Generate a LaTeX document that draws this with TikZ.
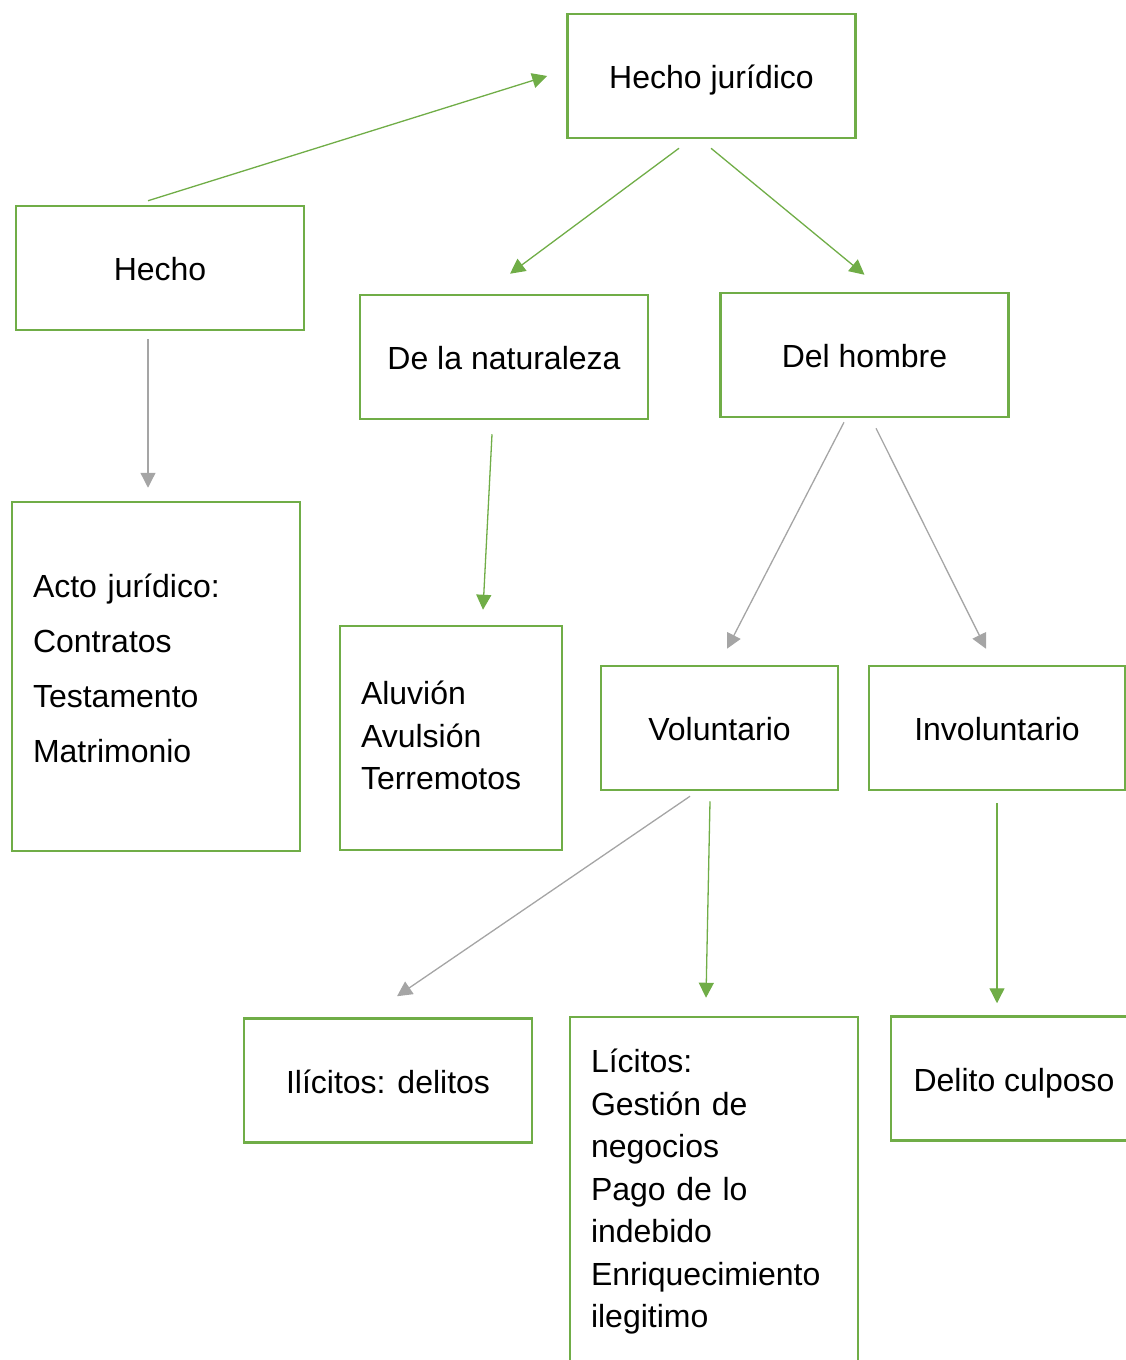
\documentclass[tikz,border=0pt]{standalone}
\usepackage{fontspec}
\setmainfont{Liberation Sans}
\usetikzlibrary{arrows.meta, positioning, calc}
\definecolor{boxgreen}{HTML}{70AD47}
\definecolor{arrowgray}{HTML}{A5A5A5}

\begin{document}
\begin{tikzpicture}[
            x=1pt, y=-1pt,
            base_box/.style={rectangle, draw=boxgreen, line width=2.5pt, minimum width=288pt, minimum height=124pt, inner sep=0pt, font=\fontsize{32}{38}\selectfont},
            concept_box/.style={base_box, text height=25pt, text depth=0pt},
            list_box/.style={base_box, align=left, inner xsep=21pt, text width=246pt},
            green_arrow/.style={draw=boxgreen, line width=1.3pt, -{Triangle[length=15pt, width=15pt]}},
            gray_arrow/.style={green_arrow, draw=arrowgray} % Gray connectors
        ]
            \useasboundingbox (0,0) rectangle (1126,1360);
            \clip (0,0) rectangle (1126,1360);

            % The boxes
            \node[concept_box] (hj) at (711.5,76) {Hecho jurídico};
            \node[concept_box] (hecho) at (160,268) {Hecho};
            \node[concept_box] (nat) at (504,357) {De la naturaleza};
            \node[concept_box] (hombre) at (864.5,355) {Del hombre};
            \node[list_box, minimum height=349pt, text depth=182pt, font=\fontsize{32}{55}\selectfont] (acto) at (156,676.5)
                {Acto jurídico:\\Contratos\\Testamento\\Matrimonio};
            \node[list_box, text width=180pt, minimum width=222pt, minimum height=224pt, text depth=90.4pt, font=\fontsize{32}{42.7}\selectfont] (aluvion) at (451,738)
                {Aluvión\\Avulsión\\Terremotos};
            \node[concept_box, minimum width=237pt] (vol) at (719.5,728) {Voluntario};
            \node[concept_box, minimum width=256pt] (invol) at (997,728) {Involuntario};
            \node[concept_box] (ilicitos) at (388,1080.5) {Ilícitos: delitos};
            \node[list_box, minimum height=350pt, font=\fontsize{32}{42.5}\selectfont] (licitos) at (714,1192)
                {Lícitos:\\Gestión de\\negocios\\Pago de lo\\indebido\\Enriquecimiento\\ilegitimo};
            \node[concept_box, minimum width=246pt] (culposo) at (1014,1078.5) {Delito culposo};

            % The connectors
            \draw[green_arrow] ([xshift=-12pt, yshift=4pt]hecho.north) -- ([xshift=-19pt]hj.west);
            \draw[green_arrow] ([xshift=-32.5pt, yshift=-9pt]hj.south) -- ([xshift=6pt, yshift=20pt]nat.north);
            \draw[green_arrow] ([xshift=-0.5pt, yshift=-9pt]hj.south) -- ([yshift=17pt]hombre.north);
            \draw[gray_arrow] ([xshift=-12pt, yshift=-8pt]hecho.south) -- ([xshift=-8pt, yshift=13pt]acto.north);
            \draw[green_arrow] ([xshift=-12pt, yshift=-14pt]nat.south) -- ([xshift=32pt, yshift=15pt]aluvion.north);
            \draw[gray_arrow] ([xshift=-20.5pt, yshift=-4pt]hombre.south) -- ([xshift=7.5pt, yshift=16pt]vol.north);
            \draw[gray_arrow] ([xshift=11.5pt, yshift=-10pt]hombre.south) -- ([xshift=-11pt, yshift=16pt]invol.north);
            \draw[gray_arrow] ([xshift=-29.5pt, yshift=-5pt]vol.south) -- ([xshift=9pt, yshift=21pt]ilicitos.north);
            \draw[green_arrow] ([xshift=-9.5pt, yshift=-10pt]vol.south) -- ([xshift=-8pt, yshift=18pt]licitos.north);
            \draw[green_arrow] ([yshift=-12pt]invol.south) -- ([xshift=-17pt, yshift=12pt]culposo.north);
        \end{tikzpicture}
\end{document}
